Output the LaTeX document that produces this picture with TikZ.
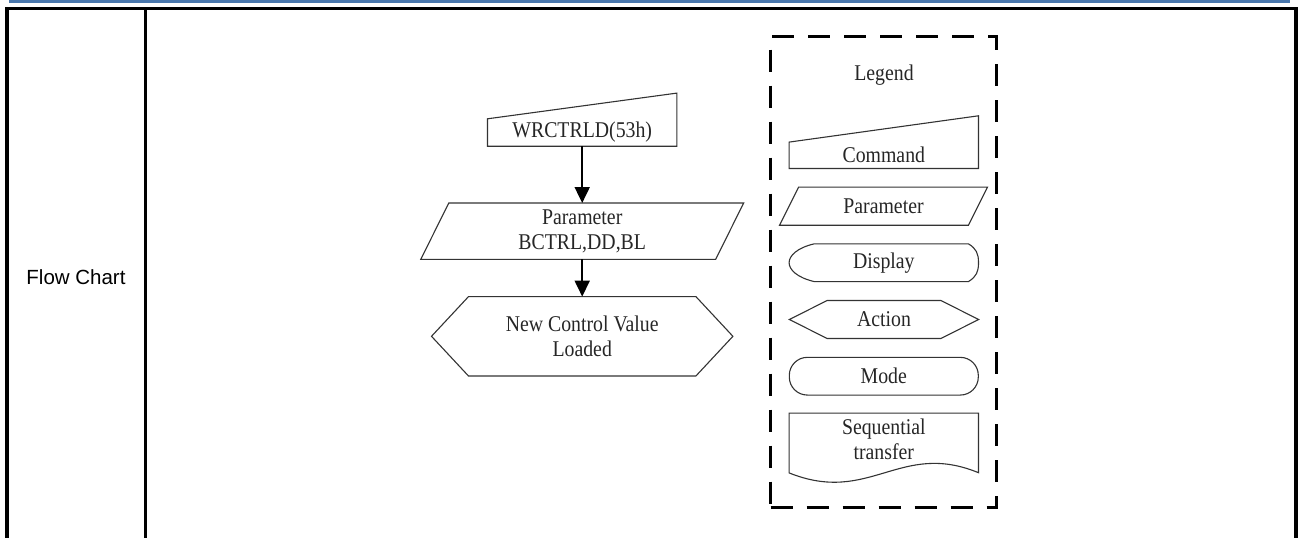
\documentclass[tikz,border=0pt]{standalone}
\usepackage{fontspec}
\setmainfont{Liberation Serif}[FakeStretch=0.88]
\newfontfamily\headfont{Liberation Sans}
\usetikzlibrary{arrows.meta,calc}
\definecolor{BandBlue}{HTML}{4A78AE}
\definecolor{ShapeGray}{HTML}{333333}
\definecolor{TextGray}{HTML}{262626}

\begin{document}
\begin{tikzpicture}[x=1pt, y=-1pt, every node/.style={font=\fontsize{22.5}{25}\selectfont, text=TextGray}]
  \tikzstyle{slot}=[rectangle, draw=none, inner sep=0pt, align=center, minimum width=189pt]
  \tikzstyle{outline}=[draw=ShapeGray, line width=1.1pt, line join=miter]
  \tikzstyle{flow}=[-{Triangle[length=16pt,width=15pt]}, line width=1.9pt, black]
  \tikzstyle{frame}=[line width=2.5pt, black]
  \useasboundingbox (0,0) rectangle (1300,538);
  % header band and table rule
  \fill[BandBlue] (9,0) rectangle (1290,2.8);
  \draw[frame] (5,8.3) -- (1298,8.3);
  \draw[line width=3.5pt] (7,8.3) -- (7,538);
  \draw[frame] (145.5,8.3) -- (145.5,538);
  \draw[line width=4pt] (1296,8.3) -- (1296,538);
  \node[font=\headfont\fontsize{20.5}{24}\selectfont, text=black] (rowlabel) at (76,277) {Flow Chart};

  % flow chart
  \node[slot, minimum height=27pt] (cmd) at (582.2,132.5) {WRCTRLD(53h)};
  \draw[outline] (cmd.north west) -- (cmd.south west) -- (cmd.south east) -- (cmd.north east) -- ++(0,-25.7) -- cycle;
  \node[slot, minimum width=294.5pt, minimum height=56pt] (param) at (582.2,231.2) {Parameter\\BCTRL,DD,BL};
  \draw[outline] ($(param.south west)+(-14,0)$) -- ($(param.north west)+(14,0)$) -- ($(param.north east)+(14,0)$) -- ($(param.south east)+(-14,0)$) -- cycle;
  \node[slot, minimum width=227pt, minimum height=79pt] (load) at (582.2,336.3) {New Control Value\\Loaded};
  \draw[outline] (load.north west) -- (load.north east) -- ($(load.east)+(37,0)$) -- (load.south east) -- (load.south west) -- ($(load.west)+(-37,0)$) -- cycle;
  \draw[flow] (cmd.south) -- (param.north);
  \draw[flow] (param.south) -- (load.north);

  % legend
  \node[draw=black, line width=3pt, dash pattern=on 22pt off 14pt, minimum width=226pt, minimum height=471pt] (legendbox) at (883.7,272.2) {};
  \node (legendtitle) at (884,75) {Legend};
  \node[slot, minimum height=26pt] (lcmd) at (883.8,155.3) {Command};
  \draw[outline] (lcmd.north west) -- (lcmd.south west) -- (lcmd.south east) -- (lcmd.north east) -- ++(0,-26.3) -- cycle;
  \node[slot, minimum width=188.5pt, minimum height=37.7pt] (lparam) at (883.5,206.2) {Parameter};
  \draw[outline] ($(lparam.south west)+(-9.5,0)$) -- ($(lparam.north west)+(9.5,0)$) -- ($(lparam.north east)+(9.5,0)$) -- ($(lparam.south east)+(-9.5,0)$) -- cycle;
  \node[slot, minimum height=37.3pt] (ldisp) at (883.8,262.7) {Display};
  \draw[outline] ($(ldisp.north west)+(25,0)$) -- ($(ldisp.north east)+(-10,0)$)
    .. controls ($(ldisp.north east)+(-2,5)$) and ($(ldisp.east)+(0,-9)$) .. (ldisp.east)
    .. controls ($(ldisp.east)+(0,9)$) and ($(ldisp.south east)+(-2,-5)$) .. ($(ldisp.south east)+(-10,0)$)
    -- ($(ldisp.south west)+(25,0)$)
    .. controls ($(ldisp.south west)+(8,-4)$) and ($(ldisp.west)+(0,7)$) .. (ldisp.west)
    .. controls ($(ldisp.west)+(0,-7)$) and ($(ldisp.north west)+(8,4)$) .. ($(ldisp.north west)+(25,0)$) -- cycle;
  \node[slot, minimum width=113.4pt, minimum height=37.6pt] (lact) at (884,319.5) {Action};
  \draw[outline] (lact.north west) -- (lact.north east) -- ($(lact.east)+(37.7,0)$) -- (lact.south east) -- (lact.south west) -- ($(lact.west)+(-37.7,0)$) -- cycle;
  \node[slot, minimum height=37.7pt, draw=ShapeGray, line width=1.1pt, rounded corners=18pt] (lmode) at (883.8,376.2) {Mode};
  \node[slot, minimum height=52.8pt] (lseq) at (883.8,439.7) {Sequential\\transfer};
  \draw[outline] (lseq.north west) -- (lseq.north east) -- ($(lseq.south east)+(0,6.4)$)
    .. controls ($(lseq.south)+(16,-26)$) and ($(lseq.south)+(-14,39)$) .. ($(lseq.south west)+(0,6.6)$) -- cycle;
\end{tikzpicture}
\end{document}
